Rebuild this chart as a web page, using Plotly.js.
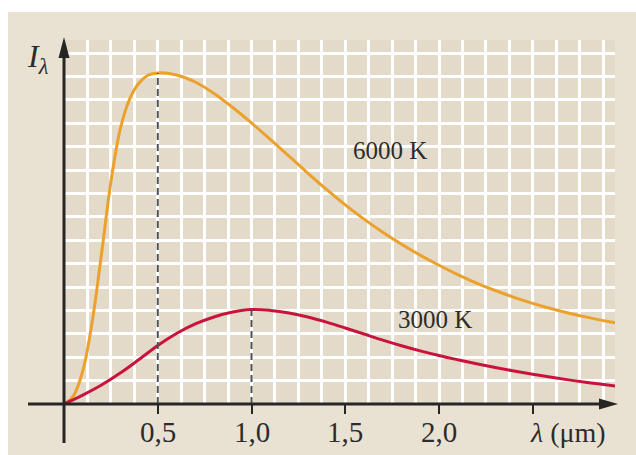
<!DOCTYPE html>
<html>
<head>
<meta charset="utf-8">
<script src="https://cdn.plot.ly/plotly-3.0.1.min.js"></script>
<style>html,body{margin:0;padding:0;background:#fff;}#chart{width:636px;height:455px;}</style>
</head>
<body>
<div id="chart"></div>
<script>
// Wavelength (µm) and relative intensity (arbitrary units = grid squares)
const lambda6000 = [0, 0.05, 0.1, 0.15, 0.2, 0.25, 0.3, 0.35, 0.4, 0.45, 0.5, 0.6, 0.7, 0.8, 0.9, 1.0, 1.1, 1.2, 1.3, 1.4, 1.5, 1.6, 1.7, 1.8, 1.9, 2.0, 2.1, 2.2, 2.3, 2.4, 2.5, 2.6, 2.7, 2.8, 2.9, 2.94];
const intensity6000 = [0, 0.34, 1.41, 3.5, 6.41, 9.49, 11.75, 13.03, 13.72, 14.06, 14.15, 14.06, 13.76, 13.27, 12.67, 12.01, 11.31, 10.59, 9.87, 9.17, 8.51, 7.9, 7.34, 6.83, 6.36, 5.93, 5.53, 5.17, 4.85, 4.56, 4.3, 4.07, 3.87, 3.69, 3.53, 3.47];
const lambda3000 = [0, 0.1, 0.2, 0.3, 0.4, 0.5, 0.6, 0.7, 0.8, 0.9, 1.0, 1.1, 1.2, 1.3, 1.4, 1.5, 1.6, 1.7, 1.8, 1.9, 2.0, 2.1, 2.2, 2.3, 2.4, 2.5, 2.6, 2.7, 2.8, 2.9, 2.94];
const intensity3000 = [0, 0.38, 0.81, 1.32, 1.9, 2.5, 3.01, 3.42, 3.72, 3.93, 4.04, 4.0, 3.89, 3.72, 3.5, 3.25, 2.99, 2.73, 2.49, 2.27, 2.07, 1.89, 1.72, 1.56, 1.41, 1.27, 1.14, 1.02, 0.91, 0.81, 0.77];
const tickValues = [0.5, 1.0, 1.5, 2.0, 2.5];
const tickLabels = ["0,5", "1,0", "1,5", "2,0"];
const seriesNames = ["6000 K", "3000 K"];

const L = 64, R = 21, T = 40, B = 51, WID = 636, HEI = 455;
const W = WID - L - R, H = HEI - T - B, AX = HEI - B;
const px = v => (v - L) / W;
const py = v => (AX - v) / H;

function peak(xs, ys) {
  let k = 0;
  ys.forEach((v, i) => { if (v > ys[k]) k = i; });
  return [xs[k], ys[k]];
}
const p6 = peak(lambda6000, intensity6000);
const p3 = peak(lambda3000, intensity3000);

const axisColor = '#262626';
const textColor = '#2c2c2c';
const serif = 'Liberation Serif, Times New Roman, serif';

const traces = [
  {x: lambda6000, y: intensity6000, mode: 'lines', name: seriesNames[0],
   line: {color: '#EBA12C', width: 3, shape: 'spline', smoothing: 1}, hoverinfo: 'skip'},
  {x: lambda3000, y: intensity3000, mode: 'lines', name: seriesNames[1],
   line: {color: '#C8143C', width: 3, shape: 'spline', smoothing: 1}, hoverinfo: 'skip'}
];

const tickAnnotations = tickLabels.map((t, i) => ({
  xref: 'x', yref: 'paper', x: tickValues[i], y: py(432), text: t, showarrow: false,
  xanchor: 'center', yanchor: 'middle', font: {family: serif, size: 29, color: textColor}
}));

const layout = {
  width: WID, height: HEI,
  margin: {l: L, r: R, t: T, b: B, pad: 0},
  paper_bgcolor: '#E9E2D3',
  plot_bgcolor: '#E3DAC9',
  showlegend: false,
  xaxis: {
    range: [0, W / 187.5], showline: false, zeroline: false,
    tickmode: 'array', tickvals: tickValues, showticklabels: false,
    ticks: 'outside', ticklen: 9, tickwidth: 2, tickcolor: axisColor,
    showgrid: true, gridcolor: '#FFFFFF', gridwidth: 3,
    minor: {tickmode: 'linear', tick0: 0, dtick: 0.125, showgrid: true, gridcolor: '#FFFFFF', gridwidth: 3, ticks: ''},
    fixedrange: true
  },
  yaxis: {
    range: [0, H / 23.4], showline: false, zeroline: false,
    tickmode: 'linear', tick0: 0, dtick: 1, showticklabels: false, ticks: '',
    showgrid: true, gridcolor: '#FFFFFF', gridwidth: 3, fixedrange: true
  },
  shapes: [
    {type: 'rect', xref: 'paper', yref: 'paper', x0: px(-5), x1: px(8), y0: py(460), y1: py(-5), fillcolor: '#FFFFFF', line: {width: 0}, layer: 'below'},
    {type: 'rect', xref: 'paper', yref: 'paper', x0: px(-5), x1: px(641), y0: py(12), y1: py(-5), fillcolor: '#FFFFFF', line: {width: 0}, layer: 'below'},
    {type: 'line', xref: 'x', yref: 'y', x0: p6[0], x1: p6[0], y0: 0, y1: p6[1], line: {color: '#505050', width: 2, dash: '7px,4px'}},
    {type: 'line', xref: 'x', yref: 'y', x0: p3[0], x1: p3[0], y0: 0, y1: p3[1], line: {color: '#505050', width: 2, dash: '7px,4px'}},
    {type: 'line', xref: 'paper', yref: 'paper', x0: px(28), x1: px(604), y0: 0, y1: 0, line: {color: axisColor, width: 3}},
    {type: 'path', xref: 'paper', yref: 'paper', path: `M ${px(618)} 0 L ${px(599)} ${py(409.5)} L ${px(599)} ${py(398.5)} Z`, fillcolor: axisColor, line: {width: 0}},
    {type: 'line', xref: 'paper', yref: 'paper', x0: 0, x1: 0, y0: py(443), y1: py(54), line: {color: axisColor, width: 3}},
    {type: 'path', xref: 'paper', yref: 'paper', path: `M 0 ${py(37)} L ${px(58.5)} ${py(58)} L ${px(69.5)} ${py(58)} Z`, fillcolor: axisColor, line: {width: 0}}
  ],
  annotations: tickAnnotations.concat([
    {xref: 'paper', yref: 'paper', x: px(38), y: py(58), text: '<i>I</i><sub><i>λ</i></sub>', showarrow: false,
     xanchor: 'center', yanchor: 'middle', font: {family: serif, size: 32, color: textColor}},
    {xref: 'paper', yref: 'paper', x: px(568), y: py(432), text: '<i>λ</i> (μm)', showarrow: false,
     xanchor: 'center', yanchor: 'middle', font: {family: serif, size: 28, color: textColor}},
    {xref: 'x', yref: 'y', x: 1.737, y: 10.85, text: seriesNames[0], showarrow: false,
     xanchor: 'center', yanchor: 'middle', font: {family: serif, size: 25, color: textColor}},
    {xref: 'x', yref: 'y', x: 1.98, y: 3.6, text: seriesNames[1], showarrow: false,
     xanchor: 'center', yanchor: 'middle', font: {family: serif, size: 25, color: textColor}}
  ])
};

Plotly.newPlot('chart', traces, layout, {staticPlot: true, displayModeBar: false});
</script>
</body>
</html>
